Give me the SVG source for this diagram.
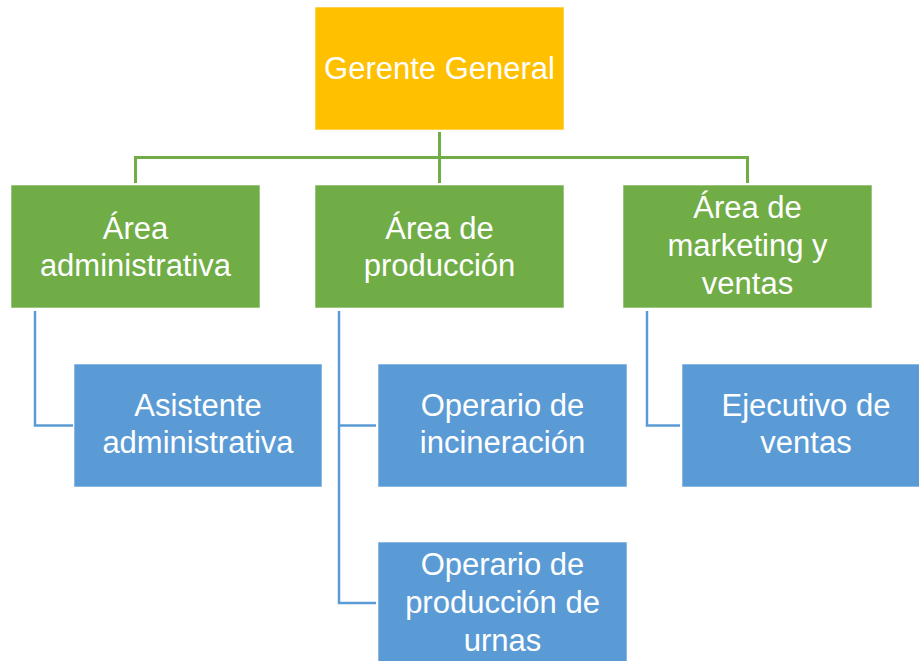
<svg xmlns="http://www.w3.org/2000/svg" width="919" height="661" viewBox="0 0 919 661">
<style>
.box{stroke:#ffffff;stroke-opacity:0.6;stroke-width:1}
.top{fill:#FFC000}
.area{fill:#70AD47}
.role{fill:#5B9BD5}
.t{font-family:"Liberation Sans",Arial,sans-serif;font-size:31px;fill:#ffffff;text-anchor:middle}
.cg{fill:none;stroke:#70AD47;stroke-width:3}
.cb{fill:none;stroke:#5B9BD5;stroke-width:2.5}
</style>
<rect width="919" height="661" fill="#ffffff"/>
<g id="connectors">
<path class="cg" d="M439.5 132 V157.5 M135.5 157.5 H748 M135.5 156 V183 M439.5 157.5 V183 M747.5 156 V183"/>
<path class="cb" d="M35 311 V425.5 H73"/>
<path class="cb" d="M339 311 V603 H376 M339 425.5 H376"/>
<path class="cb" d="M647 311 V425.5 H680"/>
</g>
<g id="gerente">
<rect class="box top" x="315" y="7" width="249" height="123"/>
<text class="t" x="439.5" y="79">Gerente General</text>
</g>
<g id="area-admin">
<rect class="box area" x="11" y="185" width="249" height="123"/>
<text class="t" x="135.5" y="239">Área</text>
<text class="t" x="135.5" y="276">administrativa</text>
</g>
<g id="area-produccion">
<rect class="box area" x="315" y="185" width="249" height="123"/>
<text class="t" x="439.5" y="239">Área de</text>
<text class="t" x="439.5" y="276">producción</text>
</g>
<g id="area-marketing">
<rect class="box area" x="623" y="185" width="249" height="123"/>
<text class="t" x="747.5" y="218">Área de</text>
<text class="t" x="747.5" y="256">marketing y</text>
<text class="t" x="747.5" y="294">ventas</text>
</g>
<g id="asistente">
<rect class="box role" x="74" y="364" width="248" height="123"/>
<text class="t" x="198" y="416">Asistente</text>
<text class="t" x="198" y="453">administrativa</text>
</g>
<g id="operario-incineracion">
<rect class="box role" x="378" y="364" width="249" height="123"/>
<text class="t" x="502.5" y="416">Operario de</text>
<text class="t" x="502.5" y="453">incineración</text>
</g>
<g id="operario-urnas">
<rect class="box role" x="378" y="542" width="249" height="130"/>
<text class="t" x="502.5" y="575">Operario de</text>
<text class="t" x="502.5" y="613">producción de</text>
<text class="t" x="502.5" y="651">urnas</text>
</g>
<g id="ejecutivo">
<rect class="box role" x="682" y="364" width="249" height="123"/>
<text class="t" x="806" y="416">Ejecutivo de</text>
<text class="t" x="806" y="453">ventas</text>
</g>
</svg>
